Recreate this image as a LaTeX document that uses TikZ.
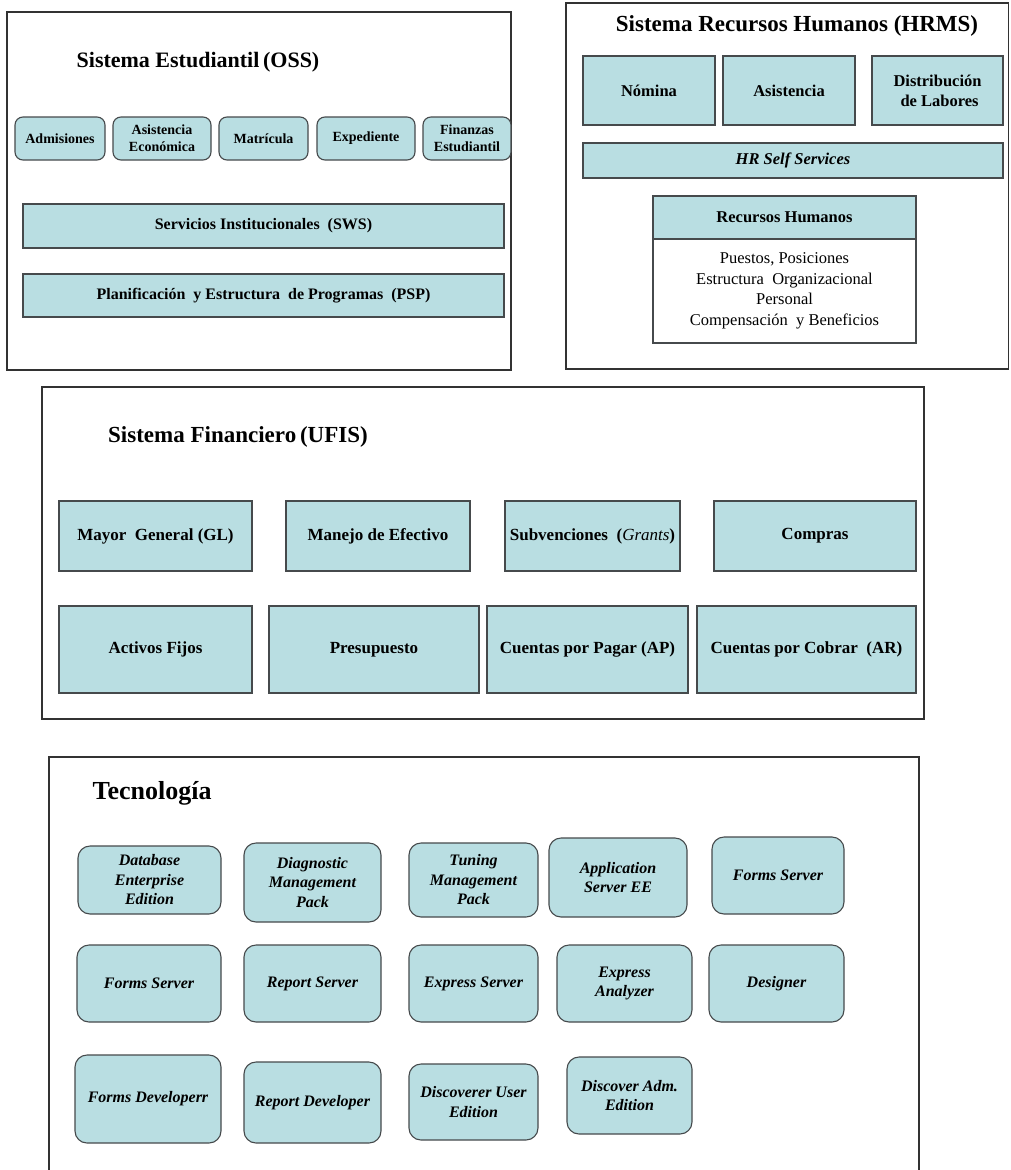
\documentclass[tikz,border=0pt]{standalone}
\usepackage{fontspec}
\setmainfont{Liberation Serif}
\definecolor{boxfill}{RGB}{185,222,226}
\definecolor{boxline}{RGB}{70,74,76}
\definecolor{panelline}{RGB}{50,50,50}
\begin{document}
\begin{tikzpicture}[x=1pt,y=-1pt,
  panel/.style={draw=panelline, line width=1.1pt},
  title/.style={inner sep=0pt, font=\bfseries\fontsize{#1}{#1}\selectfont},
  fbox/.style={draw=boxline, fill=boxfill, line width=1.1pt, inner sep=0pt, align=center},
  obox/.style={fbox, rounded corners=8pt, font=\bfseries\fontsize{14}{17}\selectfont},
  lbox/.style={fbox, font=\bfseries\fontsize{16}{19}\selectfont},
  hbox/.style={fbox, font=\bfseries\fontsize{16.5}{20}\selectfont},
  ubox/.style={fbox, font=\bfseries\fontsize{17}{20}\selectfont},
  tbox/.style={fbox, rounded corners=12pt, font=\bfseries\itshape\fontsize{16}{19.5}\selectfont},
  plain/.style={draw=boxline, fill=white, line width=1.1pt, inner sep=0pt, align=center, font=\fontsize{16.5}{20.5}\selectfont}
]
\useasboundingbox (0,0) rectangle (1010,1170);
\fill[white] (0,0) rectangle (1010,1170);

% ---------- OSS ----------
\draw[panel] (7,12) rectangle (511,370);
\node[title=22] (ossT) at (198,62) {Sistema Estudiantil\,(OSS)};
\node[obox, minimum width=90pt, minimum height=43pt] (adm) at (60,138.5) {Admisiones};
\node[obox, minimum width=98pt, minimum height=43pt] (asis) at (162,138.5) {Asistencia\\Económica};
\node[obox, minimum width=89pt, minimum height=43pt] (mat) at (263.5,138.5) {Matrícula};
\node[obox, minimum width=98pt, minimum height=43pt] (exped) at (366,138.5) {Expediente};
\node[obox, minimum width=88pt, minimum height=43pt] (finz) at (467,138.5) {Finanzas\\Estudiantil};
\node[lbox, minimum width=481pt, minimum height=44pt] (sws) at (263.5,226) {Servicios Institucionales\ \ (SWS)};
\node[lbox, minimum width=481pt, minimum height=43pt] (psp) at (263.5,295.5) {Planificación\ \ y Estructura\ \ de Programas\ \ (PSP)};

% ---------- HRMS ----------
\draw[panel] (566,3) rectangle (1008.5,369);
\node[title=23] (hrT) at (797,26) {Sistema Recursos Humanos (HRMS)};
\node[hbox, minimum width=132pt, minimum height=69pt] (nom) at (649,90.5) {Nómina};
\node[hbox, minimum width=132pt, minimum height=69pt] (asi) at (789,90.5) {Asistencia};
\node[hbox, minimum width=131pt, minimum height=69pt] (dist) at (937.5,90.5) {Distribución\\\ de Labores};
\node[hbox, minimum width=420pt, minimum height=35pt, font=\bfseries\itshape\fontsize{16.5}{20}\selectfont] (hrss) at (793,160.5) {HR Self Services};
\node[hbox, minimum width=263pt, minimum height=43pt] (rhh) at (784.5,217.5) {Recursos Humanos};
\node[plain, minimum width=263pt, minimum height=104pt] (rhb) at (784.5,291) {Puestos, Posiciones\\Estructura\ \ Organizacional\\Personal\\Compensación\ \ y Beneficios};

% ---------- UFIS ----------
\draw[panel] (42,387) rectangle (924,719);
\node[title=23] (ufT) at (238,437) {Sistema Financiero\,(UFIS)};
\node[ubox, minimum width=193pt, minimum height=70pt] (gl) at (155.5,536) {Mayor\ \ General (GL)};
\node[ubox, minimum width=184pt, minimum height=70pt] (me) at (378,536) {Manejo de Efectivo};
\node[ubox, minimum width=175pt, minimum height=70pt] (sub) at (592.5,536) {Subvenciones\ \ (\textmd{\textit{Grants}})};
\node[ubox, minimum width=202pt, minimum height=70pt] (comp) at (815,536) {Compras};
\node[ubox, minimum width=193pt, minimum height=87pt] (af) at (155.5,649.5) {Activos Fijos};
\node[ubox, minimum width=210pt, minimum height=87pt] (pres) at (374,649.5) {Presupuesto};
\node[ubox, minimum width=201pt, minimum height=87pt] (ap) at (587.5,649.5) {Cuentas por Pagar (AP)};
\node[ubox, minimum width=219pt, minimum height=87pt] (ar) at (806.5,649.5) {Cuentas por Cobrar\ \ (AR)};

% ---------- Tecnologia ----------
\draw[panel] (49,1171) -- (49,757) -- (919,757) -- (919,1171);
\node[title=26] (tecT) at (152,793) {Tecnología};
\node[tbox, minimum width=143pt, minimum height=68pt] (db) at (149.5,880) {Database\\Enterprise\\Edition};
\node[tbox, minimum width=137pt, minimum height=79pt] (diag) at (312.5,882.5) {Diagnostic\\Management\\Pack};
\node[tbox, minimum width=129pt, minimum height=74pt] (tun) at (473.5,880) {Tuning\\Management\\Pack};
\node[tbox, minimum width=138pt, minimum height=79pt] (apps) at (618,877.5) {Application\\Server EE};
\node[tbox, minimum width=132pt, minimum height=77pt] (fs1) at (778,875.5) {Forms Server};
\node[tbox, minimum width=144pt, minimum height=77pt] (fs2) at (149,983.5) {Forms Server};
\node[tbox, minimum width=137pt, minimum height=77pt] (rs) at (312.5,983.5) {Report Server};
\node[tbox, minimum width=129pt, minimum height=77pt] (es) at (473.5,983.5) {Express Server};
\node[tbox, minimum width=135pt, minimum height=77pt] (ea) at (624.5,983.5) {Express\\Analyzer};
\node[tbox, minimum width=135pt, minimum height=77pt] (des) at (776.5,983.5) {Designer};
\node[tbox, minimum width=146pt, minimum height=88pt] (fd) at (148,1099) {Forms Developerr};
\node[tbox, minimum width=137pt, minimum height=81pt] (rd) at (312.5,1102.5) {Report Developer};
\node[tbox, minimum width=129pt, minimum height=76pt] (due) at (473.5,1102) {Discoverer User\\Edition};
\node[tbox, minimum width=125pt, minimum height=77pt] (dae) at (629.5,1095.5) {Discover Adm.\\Edition};
\end{tikzpicture}
\end{document}
